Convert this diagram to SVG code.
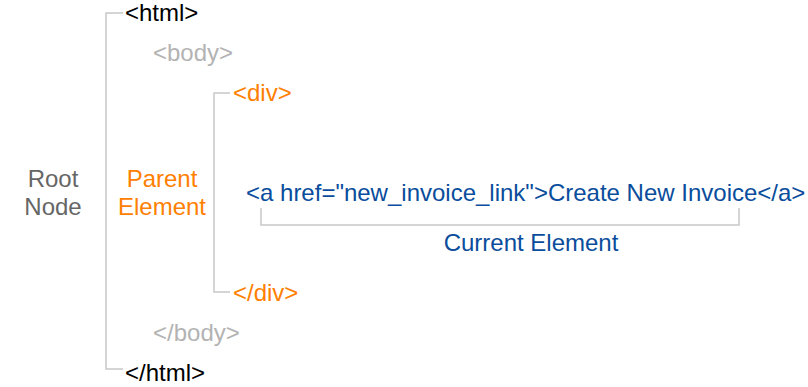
<svg xmlns="http://www.w3.org/2000/svg" width="808" height="387" viewBox="0 0 808 387">
<style>
text{font-family:"Liberation Sans",Arial,sans-serif;font-size:24px}
.blk{fill:#000}
.gry{fill:#b3b3b3}
.org{fill:#ff8000}
.blu{fill:#0a4d9c}
.dk{fill:#666}
.ln{fill:none;stroke:#c8c8c8;stroke-width:1.5}
</style>
<rect width="808" height="387" fill="#fff"/>
<g id="connectors">
<path class="ln" d="M123,13 H106 V369 H123"/>
<path class="ln" d="M230,93 H214 V292 H230"/>
<path class="ln" d="M261,208 V225 H739 V208"/>
</g>
<g id="html-open"><text class="blk" x="125" y="21">&lt;html&gt;</text></g>
<g id="body-open"><text class="gry" x="153" y="61">&lt;body&gt;</text></g>
<g id="div-open"><text class="org" x="233" y="101">&lt;div&gt;</text></g>
<g id="anchor"><text class="blu" x="246" y="201">&lt;a href="new_invoice_link"&gt;Create New Invoice&lt;/a&gt;</text></g>
<g id="current-label"><text class="blu" x="531" y="251" text-anchor="middle">Current Element</text></g>
<g id="div-close"><text class="org" x="233" y="301">&lt;/div&gt;</text></g>
<g id="body-close"><text class="gry" x="153" y="341">&lt;/body&gt;</text></g>
<g id="html-close"><text class="blk" x="125" y="381">&lt;/html&gt;</text></g>
<g id="root-label"><text class="dk" x="53" y="187" text-anchor="middle">Root</text><text class="dk" x="53" y="215" text-anchor="middle">Node</text></g>
<g id="parent-label"><text class="org" x="162" y="187" text-anchor="middle">Parent</text><text class="org" x="162" y="215" text-anchor="middle">Element</text></g>
</svg>
